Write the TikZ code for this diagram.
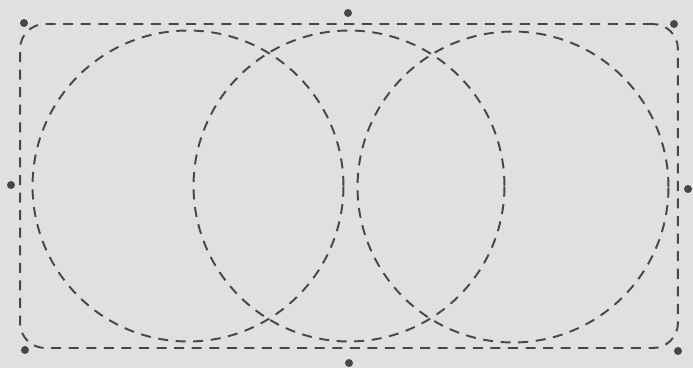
\documentclass[tikz,border=0pt]{standalone}
\begin{document}
\begin{tikzpicture}[
  x=0.02cm,y=-0.02cm,
  dashline/.style={draw=black!72,line width=1.1pt,dash pattern=on 5.7pt off 4.3pt},
  setcircle/.style={dashline,circle,minimum size=6.22cm,inner sep=0pt},
  frame/.style={dashline,rectangle,rounded corners=0.5cm,minimum width=13.16cm,minimum height=6.48cm,inner sep=0pt},
  dot/.style={circle,fill=black!72,inner sep=0pt,minimum size=0.16cm}
]
  % paper
  \fill[black!12] (0,0) rectangle (693,368);
  \useasboundingbox (0,0) rectangle (693,368);

  % universe and the three sets
  \node[frame] (universe) at (349,186) {};
  \node[setcircle] (setA) at (188,186) {};
  \node[setcircle] (setB) at (349,186) {};
  \node[setcircle] (setC) at (513,187) {};

  % corner and edge points
  \node[dot] (topleft) at (24,23) {};
  \node[dot] (top) at (348,13) {};
  \node[dot] (topright) at (674,24) {};
  \node[dot] (left) at (11,185) {};
  \node[dot] (right) at (688,189) {};
  \node[dot] (bottomleft) at (25,350) {};
  \node[dot] (bottom) at (349,363) {};
  \node[dot] (bottomright) at (678,351) {};
\end{tikzpicture}
\end{document}
